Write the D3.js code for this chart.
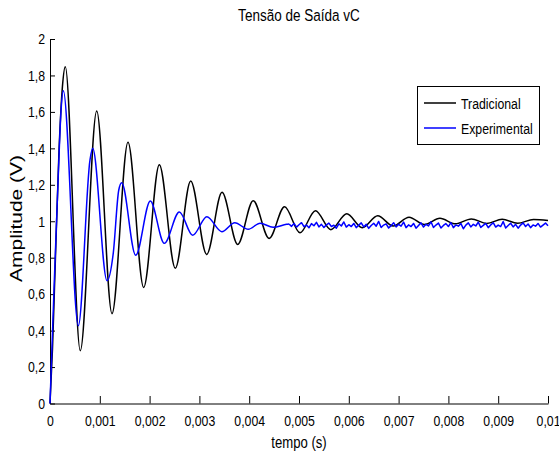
<!DOCTYPE html>
<html>
<head>
<meta charset="utf-8">
<script src="https://cdn.jsdelivr.net/npm/d3@7"></script>
<style>
  body { margin: 0; background: #fff; }
  text { font-family: "Liberation Sans", Arial, sans-serif; fill: #000; }
</style>
</head>
<body>
<svg id="chart" width="559" height="459"></svg>
<script>
// Tradicional: turning points (and the first rise)
let tradT = [0, 0.00005, 0.0001, 0.00018, 0.00025, 0.000307,
  0.000608, 0.000938, 0.001245, 0.001566, 0.001881, 0.002195, 0.002516, 0.002825,
  0.003146, 0.003454, 0.003769, 0.00408, 0.0044, 0.00471, 0.00502, 0.00533,
  0.00564, 0.00596, 0.00627, 0.00658, 0.00689, 0.00721, 0.00752, 0.00783,
  0.00814, 0.00846, 0.00877, 0.00908, 0.00939, 0.00971, 0.01];
let tradV = [0, 0.3, 0.72, 1.38, 1.74, 1.848,
  0.29, 1.605, 0.493, 1.433, 0.637, 1.31, 0.742, 1.221,
  0.818, 1.159, 0.873, 1.113, 0.906, 1.08, 0.937, 1.058,
  0.954, 1.041, 0.965, 1.03, 0.974, 1.022, 0.982, 1.016,
  0.986, 1.013, 0.988, 1.011, 0.989, 1.01, 1.004];

// Experimental: oscillating start
let expT = [0, 0.00008, 0.00017, 0.00022, 0.000267, 0.000569, 0.000803, 0.000857,
  0.001145, 0.00127, 0.00138, 0.00144, 0.001721, 0.002014, 0.002295, 0.002597,
  0.002865, 0.00315, 0.00345, 0.00371, 0.00398, 0.00422, 0.00448, 0.00475];
let expV = [0, 0.62, 1.28, 1.6, 1.716, 0.427, 1.336, 1.4,
  0.674, 0.824, 1.17, 1.211, 0.813, 1.111, 0.879, 1.051,
  0.923, 1.025, 0.943, 0.992, 0.956, 0.989, 0.967, 0.983];
// Experimental: noisy settled tail, sampled every 0.05 ms from 4.8 ms
let tailStart = 0.0048, tailStep = 0.00005;
let tailV = [0.985,0.972,0.988,0.968,0.981,0.992,0.970,0.979,0.964,0.987,
  0.975,0.994,0.969,0.983,0.966,0.980,0.990,0.971,0.978,0.962,
  0.986,0.974,0.996,0.968,0.981,0.971,0.988,0.965,0.979,0.991,
  0.969,0.983,0.961,0.977,0.989,0.973,0.999,0.966,0.979,0.986,
  0.963,0.976,0.992,0.969,0.983,0.973,0.995,0.965,0.980,0.971,
  0.988,0.962,0.977,0.991,0.968,0.983,0.974,0.997,0.966,0.979,
  0.990,0.963,0.977,0.987,0.971,0.993,0.965,0.980,0.973,0.988,
  0.959,0.979,0.991,0.969,0.983,0.974,0.995,0.966,0.977,0.988,
  0.965,0.980,0.992,0.968,0.979,0.971,0.998,0.963,0.977,0.989,
  0.969,0.983,0.962,0.979,0.991,0.971,0.985,0.965,0.980,0.973,
  0.988,0.968,0.979,0.990,0.975];

let xTicks = [0, 0.001, 0.002, 0.003, 0.004, 0.005, 0.006, 0.007, 0.008, 0.009, 0.01];
let xTickLabels = ["0", "0,001", "0,002", "0,003", "0,004", "0,005", "0,006", "0,007", "0,008", "0,009", "0,01"];
let yTicks = [0, 0.2, 0.4, 0.6, 0.8, 1, 1.2, 1.4, 1.6, 1.8, 2];
let yTickLabels = ["0", "0,2", "0,4", "0,6", "0,8", "1", "1,2", "1,4", "1,6", "1,8", "2"];

let seriesNames = ["Tradicional", "Experimental"];
let seriesColors = ["#000000", "#0000ff"];

// no narrow font installed, so squeeze glyphs horizontally
const narrow = 0.82;

const svg = d3.select("#chart");

let xScale = d3.scaleLinear().domain([0, 0.01]).range([50, 548]);
let yScale = d3.scaleLinear().domain([0, 2]).range([403.5, 39]);

let tradData = tradT.map((t, i) => ({ t: t, v: tradV[i] }));
let tailData = tailV.map((v, i) => ({ t: tailStart + i * tailStep, v: v }));
let expData = expT.map((t, i) => ({ t: t, v: expV[i] })).concat([tailData[0]]);

// axes
let xAxis = d3.axisBottom(xScale)
  .tickValues(xTicks)
  .tickFormat((d, i) => xTickLabels[i])
  .tickSizeInner(-7.5)
  .tickSizeOuter(0)
  .tickPadding(12);
let yAxis = d3.axisLeft(yScale)
  .tickValues(yTicks)
  .tickFormat((d, i) => yTickLabels[i])
  .tickSizeInner(-5)
  .tickSizeOuter(0)
  .tickPadding(5 / narrow);

let gx = svg.append("g")
  .attr("transform", "translate(0,403.5)")
  .call(xAxis);
let gy = svg.append("g")
  .attr("transform", "translate(50,0)")
  .call(yAxis);
[gx, gy].forEach(g => {
  g.selectAll("text")
    .style("font-size", "15px")
    .attr("fill", "#000")
    .attr("transform", `scale(${narrow},1)`);
  g.selectAll("path, line").attr("stroke", "#000").attr("stroke-width", 1);
});

// lines
let smooth = d3.line()
  .x(d => xScale(d.t))
  .y(d => yScale(d.v))
  .curve(d3.curveMonotoneX);
let jagged = d3.line()
  .x(d => xScale(d.t))
  .y(d => yScale(d.v));

svg.append("path")
  .datum(tradData)
  .attr("d", smooth)
  .attr("fill", "none")
  .attr("stroke", seriesColors[0])
  .attr("stroke-width", 1.5);

svg.append("path")
  .datum(expData)
  .attr("d", smooth)
  .attr("fill", "none")
  .attr("stroke", seriesColors[1])
  .attr("stroke-width", 1.5);

svg.append("path")
  .datum(tailData)
  .attr("d", jagged)
  .attr("fill", "none")
  .attr("stroke", seriesColors[1])
  .attr("stroke-width", 1.5)
  .attr("stroke-linejoin", "round");

// title and labels
svg.append("text")
  .attr("transform", `translate(299,21) scale(${narrow},1)`)
  .attr("text-anchor", "middle")
  .style("font-size", "16.5px")
  .text("Tensão de Saída vC");

svg.append("text")
  .attr("transform", `translate(299,448) scale(${narrow},1)`)
  .attr("text-anchor", "middle")
  .style("font-size", "16px")
  .text("tempo (s)");

svg.append("text")
  .attr("transform", "translate(22,218.5) rotate(-90)")
  .attr("text-anchor", "middle")
  .attr("textLength", 127)
  .attr("lengthAdjust", "spacingAndGlyphs")
  .style("font-size", "16.5px")
  .text("Amplitude (V)");

// legend
let legend = svg.append("g");
legend.append("rect")
  .attr("x", 417.5).attr("y", 86.5)
  .attr("width", 122).attr("height", 58)
  .attr("fill", "#fff")
  .attr("stroke", "#000")
  .attr("stroke-width", 1);
seriesNames.forEach((name, i) => {
  let y = 103 + i * 25;
  legend.append("line")
    .attr("x1", 424).attr("x2", 456)
    .attr("y1", y).attr("y2", y)
    .attr("stroke", seriesColors[i])
    .attr("stroke-width", 1.5);
  legend.append("text")
    .attr("transform", `translate(461,${y + 5.5}) scale(${narrow},1)`)
    .style("font-size", "15px")
    .text(name);
});
</script>
</body>
</html>
